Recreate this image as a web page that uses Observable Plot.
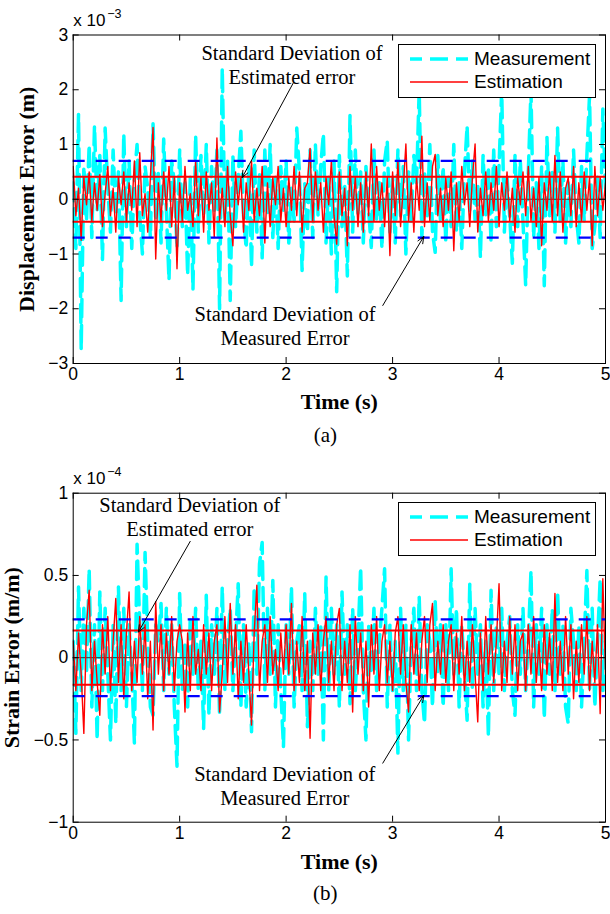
<!DOCTYPE html>
<html>
<head>
<meta charset="utf-8">
<script src="https://cdn.jsdelivr.net/npm/d3@7"></script>
<script src="https://cdn.jsdelivr.net/npm/@observablehq/plot@0.6"></script>
<style>
html, body { margin: 0; padding: 0; background: #fff; }
.panel { position: relative; width: 610px; }
.panel svg { display: block; }
.legend { position: absolute; left: 398px; width: 196px; height: 52px; border: 1px solid #000; background: #fff;
  font-family: 'Liberation Sans', Arial, sans-serif; font-size: 19px; color: #000; z-index: 2; }
.legend .row { position: absolute; left: 0; height: 22px; line-height: 22px; display: flex; align-items: center; white-space: nowrap; }
.legend .row svg { display: block; flex: none; }
.legend .row span { margin-left: 5px; }
</style>
</head>
<body>
<div class="panel" id="panelA"></div>
<div class="panel" id="panelB"></div>
<script>
// ---------- data ----------
const sampleStep = 0.025; // s
const xTicks = [0, 1, 2, 3, 4, 5];

// Panel (a): displacement error, units of 1e-3 m
const yTicksA = [-3, -2, -1, 0, 1, 2, 3];
const measurementA = [
  0.3, -0.9, 1.55, -2.75, 0.6, -0.4, 1.0, -0.7, 1.34, -0.2,
  0.8, -1.1, 1.3, 0.2, -0.6, 0.9, -0.3, 0.5, -1.85, 1.2,
  -0.5, 0.7, -0.9, 0.4, 1.0, -0.3, -1.0, 0.6, 0.2, -0.7,
  1.38, -0.4, 0.5, -0.8, 1.1, -0.2, -1.48, 0.7, 0.3, -0.9,
  0.9, -0.5, 0.3, -1.39, 0.4, -1.65, 1.17, -0.6, 0.8, -0.3,
  1.0, -0.8, 0.6, -0.2, 0.9, -2.0, 2.4, -0.4, 0.7, -1.85,
  0.8, -0.5, 0.4, 1.24, -0.3, -0.9, 0.6, -1.24, 0.9, -0.6,
  0.5, -1.07, 0.9, -0.3, 1.0, -0.7, 0.4, -0.9, 0.6, -0.2,
  0.7, -0.8, 0.2, -0.4, 1.3, 0.5, -1.3, 0.3, -0.6, 0.9,
  -0.7, 1.0, -0.3, 0.6, 1.2, -0.8, 0.4, -1.0, 0.7, -1.69,
  0.8, -0.5, 0.3, -1.4, 1.53, -0.6, 0.9, -0.3, 0.5, -0.8,
  0.6, -0.2, -0.88, 0.9, -0.4, 0.3, -0.9, 0.7, 1.07, -0.6,
  0.4, -0.8, 0.9, -0.3, 0.6, -1.0, 0.5, -0.4, 0.8, 0.3,
  2.0, -0.7, 0.5, -0.3, 1.0, -0.6, -0.97, 0.8, -0.4, 0.6,
  -0.8, 0.4, -0.5, 1.0, -0.6, 0.3, -0.9, 0.5, 1.34, -0.2,
  0.7, -0.4, 0.3, -1.06, 0.8, -0.3, 0.6, -0.8, 0.9, -0.5,
  0.6, 2.0, -0.6, 0.4, -0.3, -1.17, 0.8, -0.5, 0.7, -0.4,
  -1.57, 0.5, 2.0, -0.7, 0.3, -0.9, 0.6, -1.58, 1.13, -0.3,
  0.5, -0.6, 1.3, -0.4, 0.7, -0.8, 0.3, -0.5, 0.9, -0.3,
  -0.8, 0.6, -0.4, 0.8, 1.9, -0.9, -0.5, 0.4, -0.7, 1.65,
  0.2
];
const estimationA = [
  0.6, -0.3, 0.2, -0.75, 0.4, -0.1, 0.5, -0.4, 0.3, -0.2,
  0.45, -0.5, 0.1, 0.6, -0.3, 0.2, -0.6, 0.4, -0.1, 0.5,
  -0.4, 0.3, -0.2, 0.7, -0.5, 0.85, -0.3, 0.1, -0.6, 0.4,
  1.31, -1.09, 0.3, -0.4, 0.5, -0.2, 0.6, -0.5, 0.4, -1.27,
  0.3, -0.4, 0.6, -0.2, 0.1, -0.5, 0.7, -0.3, 0.4, -0.6,
  0.5, -0.2, 0.3, -0.7, 1.12, -0.4, 0.2, -0.5, 0.6, -0.3,
  -0.85, 0.5, -0.1, 0.4, -0.6, 0.3, -0.2, 0.7, -0.4, 0.2,
  -0.3, 0.6, -0.8, 0.3, -0.5, 0.4, -0.1, 0.6, -0.4, 0.2,
  -0.5, 0.4, -0.2, 0.6, -0.3, 0.5, -0.6, 0.2, 0.3, 0.93,
  -0.4, 0.5, -0.2, 0.3, -0.6, 0.4, -0.1, 0.7, -0.3, -0.82,
  0.5, -0.3, 0.2, -0.85, 0.6, -0.2, 0.4, -0.5, 0.3, -0.6,
  0.5, -0.3, 1.01, -0.4, 0.6, -0.2, 0.3, -0.5, 0.4, -1.03,
  0.5, -0.3, 0.7, -0.5, 0.2, 1.01, -0.4, 0.3, -0.6, 0.4,
  -0.2, 1.15, -0.5, 0.3, -0.4, 0.6, 0.82, -0.3, 0.2, -0.5,
  0.4, -0.2, 0.5, -0.94, 0.3, -0.4, 0.6, -0.1, 0.3, -0.5,
  0.4, 1.01, -0.6, 0.2, -0.3, 0.5, -0.4, 0.3, -0.2, 0.6,
  -0.5, 0.3, -0.2, 0.5, -0.4, 0.2, -0.6, 0.4, -0.1, 0.5,
  -0.3, 0.6, -0.4, 0.2, -0.5, 0.4, -0.85, 0.3, -0.2, 0.5,
  -0.4, 0.8, -0.3, 0.5, -0.6, 0.2, 0.4, -0.3, 0.6, -0.5,
  0.3, -0.4, 0.5, -0.2, 0.4, -0.85, 0.6, -0.3, 0.4, -0.2,
  0.3
];
const stdMeasuredA = 0.7;
const stdEstimatedA = 0.41;

// Panel (b): strain error, units of 1e-4 m/m
const yTicksB = [-1, -0.5, 0, 0.5, 1];
const measurementB = [
  0.1, -0.46, 0.43, -0.2, 0.3, -0.1, 0.54, -0.3, 0.2, -0.5,
  0.4, -0.2, 0.3, -0.1, -0.5, 0.2, -0.4, 0.43, -0.2, 0.3,
  -0.3, 0.2, -0.1, -0.52, 0.69, 0.2, -0.2, 0.64, 0.1, -0.3,
  -0.35, 0.2, 0.1, 0.33, -0.2, 0.3, -0.1, 0.2, -0.3, -0.66,
  0.39, -0.2, 0.1, -0.3, 0.25, -0.1, 0.3, -0.2, 0.1, -0.43,
  0.38, -0.35, 0.2, -0.1, 0.3, -0.35, 0.43, -0.2, 0.1, 0.3,
  -0.2, 0.1, 0.45, -0.3, 0.2, -0.3, 0.1, -0.45, 0.43, -0.1,
  0.57, 0.70, -0.2, 0.3, -0.1, 0.47, -0.3, 0.2, -0.2, -0.54,
  0.2, -0.1, 0.43, -0.3, 0.1, 0.2, -0.2, 0.39, -0.42, 0.1,
  -0.2, 0.3, -0.1, 0.2, -0.5, 0.49, -0.2, 0.3, -0.1, 0.2,
  -0.3, 0.4, -0.1, 0.2, -0.28, 0.3, -0.2, 0.1, 0.55, -0.2,
  -0.5, 0.2, -0.1, 0.3, -0.2, 0.1, 0.3, 0.54, -0.3, 0.2,
  -0.2, 0.1, -0.58, 0.3, -0.2, 0.2, -0.5, 0.1, 0.3, -0.2,
  0.37, -0.2, -0.4, 0.2, 0.1, -0.3, 0.35, -0.1, 0.2, -0.3,
  0.2, -0.2, 0.54, -0.1, 0.3, -0.3, 0.2, -0.1, -0.38, 0.45,
  -0.2, 0.3, -0.1, 0.2, -0.3, 0.1, -0.48, 0.41, -0.2, 0.2,
  -0.1, 0.3, -0.2, 0.1, 0.25, -0.2, -0.35, 0.2, -0.1, 0.3,
  -0.2, 0.1, 0.53, -0.3, 0.2, -0.1, 0.3, -0.37, 0.2, -0.1,
  0.3, -0.2, 0.4, -0.1, 0.2, -0.3, -0.4, 0.3, 0.1, -0.2,
  0.2, -0.3, 0.1, 0.53, -0.2, 0.3, -0.3, 0.1, 0.48, -0.2,
  0.1
];
const estimationB = [
  0.1, -0.2, 0.15, -0.1, -0.46, 0.2, 0.41, -0.2, 0.1, -0.15,
  -0.35, 0.2, -0.1, 0.25, -0.2, 0.1, 0.36, -0.15, 0.2, -0.25,
  0.15, 0.40, -0.2, 0.1, -0.15, 0.25, -0.1, 0.2, -0.25, 0.1,
  -0.44, 0.34, -0.1, 0.2, -0.2, 0.15, -0.1, 0.25, -0.2, 0.1,
  0.2, 0.1, -0.33, 0.15, -0.2, 0.25, -0.1, 0.05, -0.2, 0.2,
  -0.1, 0.15, -0.2, 0.1, 0.2, -0.33, -0.1, 0.25, -0.15, 0.33,
  -0.1, 0.2, -0.25, 0.1, -0.15, 0.2, -0.1, -0.41, 0.15, 0.44,
  -0.2, 0.1, 0.2, -0.15, 0.25, -0.1, 0.05, -0.2, 0.15, -0.1,
  0.2, -0.1, 0.33, -0.2, 0.1, -0.15, 0.25, -0.2, 0.1, -0.49,
  0.15, -0.1, 0.2, -0.2, 0.1, 0.25, -0.15, 0.1, -0.2, 0.2,
  0.3, -0.2, 0.1, -0.15, 0.2, -0.33, 0.25, -0.1, 0.15, -0.2,
  0.1, -0.3, 0.2, -0.1, 0.25, -0.2, 0.1, 0.2, -0.15, 0.1,
  -0.2, 0.15, 0.25, -0.1, 0.2, -0.15, -0.33, 0.2, -0.1, 0.15,
  -0.2, 0.1, 0.25, -0.15, 0.2, 0.33, -0.2, 0.1, -0.1, 0.2,
  -0.15, 0.1, 0.2, -0.2, 0.15, -0.1, 0.25, -0.2, 0.1, -0.15,
  0.2, -0.1, -0.39, 0.15, -0.2, 0.25, -0.1, 0.2, -0.15, 0.1,
  0.45, -0.2, 0.1, -0.15, 0.25, -0.1, 0.2, -0.2, 0.1, 0.15,
  -0.2, 0.2, -0.1, 0.25, -0.15, 0.1, -0.2, 0.2, -0.1, 0.15,
  -0.2, 0.39, -0.15, 0.1, -0.2, 0.25, -0.1, 0.2, -0.25, 0.1,
  -0.15, 0.2, -0.1, 0.25, -0.2, 0.1, -0.15, 0.2, -0.34, 0.48,
  -0.1
];
const stdMeasuredB = 0.233;
const stdEstimatedB = 0.165;

// annotations (anchored in data units)
const annotationsA = [
  {text: "Standard Deviation of\nEstimated error", x: 2.055, y: 2.11, x1: 2.066, y1: 2.12, x2: 1.587, y2: 0.396},
  {text: "Standard Deviation of\nMeasured Error", x: 1.99, y: -2.67, x1: 2.908, y1: -1.94, x2: 3.293, y2: -0.68}
];
const annotationsB = [
  {text: "Standard Deviation of\nEstimated error", x: 1.095, y: 0.737, x1: 1.099, y1: 0.707, x2: 0.612, y2: 0.156},
  {text: "Standard Deviation of\nMeasured Error", x: 1.987, y: -0.898, x1: 2.908, y1: -0.641, x2: 3.293, y2: -0.229}
];
const legendLabels = ["Measurement", "Estimation"];

// ---------- drawing ----------
const time = measurementA.map((_, i) => +(i * sampleStep).toFixed(4));
const serif = "'Liberation Serif','Times New Roman',Times,serif";
const sans = "'Liberation Sans',Arial,Helvetica,sans-serif";
const fmt = d => d < 0 ? "\u2212" + (-d) : String(d);

function makePanel(cfg) {
  const W = 610, H = cfg.height, mL = 72.7, mR = 5;
  const innerW = W - mL - mR, innerH = H - cfg.marginTop - cfg.marginBottom;
  const meas = time.map((t, i) => ({t, v: cfg.meas[i]}));
  const est = time.map((t, i) => ({t, v: cfg.est[i]}));
  return Plot.plot({
    width: W, height: H,
    marginLeft: mL, marginRight: mR, marginTop: cfg.marginTop, marginBottom: cfg.marginBottom,
    x: {domain: [0, 5]},
    y: {domain: cfg.yDomain},
    style: {fontFamily: sans, fontSize: "17.5px", background: "#fff", color: "#000", overflow: "visible"},
    marks: [
      Plot.line(meas, {x: "t", y: "v", stroke: "#00ffff", strokeWidth: 3.5, strokeDasharray: "18,8", clip: true}),
      Plot.ruleY([0], {stroke: "#333", strokeWidth: 1}),
      Plot.line(est, {x: "t", y: "v", stroke: "#ff0000", strokeWidth: 1.4, clip: true}),
      Plot.ruleY([cfg.stdMeas, -cfg.stdMeas], {stroke: "#0000ff", strokeWidth: 2.2, strokeDasharray: "12,11"}),
      Plot.ruleY([cfg.stdEst, -cfg.stdEst], {stroke: "#ff0000", strokeWidth: 2}),
      Plot.frame({stroke: "#000", strokeWidth: 1}),
      Plot.ruleY(cfg.yTicks, {insetRight: innerW - 6, stroke: "#000"}),
      Plot.ruleY(cfg.yTicks, {insetLeft: innerW - 6, stroke: "#000"}),
      Plot.ruleX(xTicks, {insetTop: innerH - 6, stroke: "#000"}),
      Plot.ruleX(xTicks, {insetBottom: innerH - 6, stroke: "#000"}),
      Plot.axisX({ticks: xTicks, tickSize: 0, tickPadding: 4, label: null, tickFormat: fmt}),
      Plot.axisY({ticks: cfg.yTicks, tickSize: 0, tickPadding: 5, label: null, tickFormat: fmt}),
      Plot.text(["x 10"], {text: d => d, frameAnchor: "top-left", textAnchor: "start", lineAnchor: "bottom", dy: -9.5, fontSize: 17}),
      Plot.text([cfg.exponent], {text: d => d, frameAnchor: "top-left", textAnchor: "start", lineAnchor: "bottom", dx: 34, dy: -17.5, fontSize: 12.5}),
      Plot.text([cfg.yTitle], {text: d => d, frameAnchor: "left", textAnchor: "middle", rotate: -90, dx: cfg.yTitleDx, lineAnchor: "bottom",
        fontFamily: serif, fontWeight: "bold", fontSize: 22}),
      Plot.text(["Time (s)"], {text: d => d, frameAnchor: "bottom", textAnchor: "middle", dy: cfg.xTitleDy, lineAnchor: "bottom",
        fontFamily: serif, fontWeight: "bold", fontSize: 22}),
      Plot.text([cfg.caption], {text: d => d, frameAnchor: "bottom", textAnchor: "middle", dx: -14, dy: 78, lineAnchor: "bottom",
        fontFamily: serif, fontSize: 21}),
      Plot.text(cfg.annotations, {x: "x", y: "y", text: "text", textAnchor: "middle", lineAnchor: "bottom", lineHeight: 1.17,
        fontFamily: serif, fontSize: 20.5, fill: "#000"}),
      Plot.arrow(cfg.annotations, {x1: "x1", y1: "y1", x2: "x2", y2: "y2", stroke: "#000", strokeWidth: 1,
        headLength: 11, headAngle: 45, bend: 0})
    ]
  });
}

function makeLegend(top) {
  const div = document.createElement("div");
  div.className = "legend";
  div.style.top = top + "px";
  div.innerHTML =
    `<div class="row" style="top:3.3px"><svg width="70" height="22"><line x1="11" x2="69" y1="11" y2="11" stroke="#00ffff" stroke-width="3.5" stroke-dasharray="18,8" stroke-dashoffset="6"/></svg><span>${legendLabels[0]}</span></div>` +
    `<div class="row" style="top:26.3px"><svg width="70" height="22"><line x1="11" x2="69" y1="11" y2="11" stroke="#ff0000" stroke-width="1.4"/></svg><span>${legendLabels[1]}</span></div>`;
  return div;
}

const pa = document.getElementById("panelA");
pa.appendChild(makePanel({
  height: 450, marginTop: 34.5, marginBottom: 87, yDomain: [-3, 3], yTicks: yTicksA,
  meas: measurementA, est: estimationA, stdMeas: stdMeasuredA, stdEst: stdEstimatedA,
  exponent: "\u22123", yTitle: "Displacement Error (m)", yTitleDx: -39, xTitleDy: 45,
  caption: "(a)", annotations: annotationsA
}));
pa.appendChild(makeLegend(44));

const pb = document.getElementById("panelB");
pb.appendChild(makePanel({
  height: 464, marginTop: 42.7, marginBottom: 92.3, yDomain: [-1, 1], yTicks: yTicksB,
  meas: measurementB, est: estimationB, stdMeas: stdMeasuredB, stdEst: stdEstimatedB,
  exponent: "\u22124", yTitle: "Strain Error (m/m)", yTitleDx: -54.5, xTitleDy: 46.3,
  caption: "(b)", annotations: annotationsB
}));
pb.appendChild(makeLegend(52));
</script>
</body>
</html>
